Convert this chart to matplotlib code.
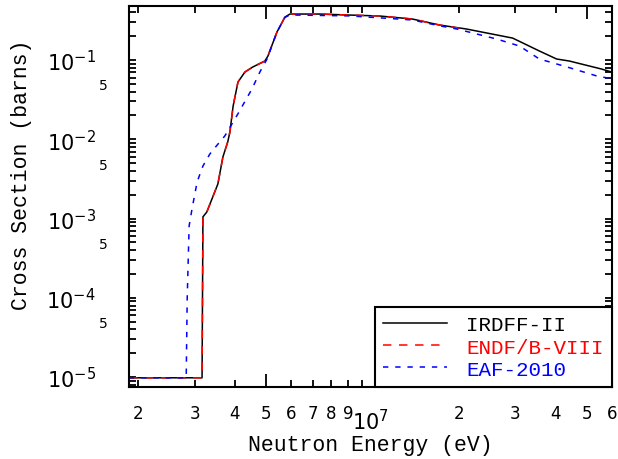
import matplotlib
matplotlib.use("Agg")
import matplotlib.pyplot as plt
from matplotlib.ticker import FixedLocator, FixedFormatter
from matplotlib.transforms import ScaledTranslation

# IRDFF-II (eV, barns)
irdff_e = [1.87e6, 3.16e6, 3.17e6, 3.18e6, 3.27e6, 3.54e6, 3.67e6, 3.80e6, 3.86e6,
           3.95e6, 4.09e6, 4.30e6, 4.55e6, 4.96e6, 5.07e6, 5.41e6, 5.73e6, 5.94e6,
           7.37e6, 9.12e6, 1.13e7, 1.43e7, 1.74e7, 2.11e7, 2.94e7, 3.56e7, 4.03e7,
           4.42e7, 5.56e7, 5.98e7]
irdff_xs = [9.8e-6, 9.8e-6, 1.0e-4, 1.05e-3, 1.21e-3, 2.73e-3, 5.98e-3, 9.25e-3, 1.24e-2,
            2.63e-2, 5.28e-2, 7.06e-2, 8.17e-2, 9.7e-2, 0.112, 0.225, 0.348, 0.380,
            0.380, 0.369, 0.359, 0.329, 0.276, 0.246, 0.189, 0.130, 0.103,
            0.097, 0.077, 0.0706]

# ENDF/B-VIII (ends at 20 MeV)
endf_e = [1.87e6, 3.16e6, 3.17e6, 3.18e6, 3.27e6, 3.54e6, 3.67e6, 3.80e6, 3.86e6,
          3.95e6, 4.09e6, 4.30e6, 4.55e6, 4.96e6, 5.07e6, 5.41e6, 5.73e6, 5.94e6,
          7.37e6, 9.12e6, 1.13e7, 1.43e7, 1.74e7, 2.0e7]
endf_xs = [9.8e-6, 9.8e-6, 1.0e-4, 1.05e-3, 1.21e-3, 2.73e-3, 5.98e-3, 9.25e-3, 1.24e-2,
           2.63e-2, 5.28e-2, 7.06e-2, 8.17e-2, 9.7e-2, 0.112, 0.225, 0.348, 0.380,
           0.380, 0.369, 0.359, 0.329, 0.276, 0.252]

# EAF-2010
eaf_e = [1.87e6, 2.82e6, 2.84e6, 2.88e6, 2.94e6, 3.05e6, 3.18e6, 3.34e6, 3.59e6,
         3.72e6, 4.09e6, 4.52e6, 4.79e6, 5.04e6, 5.41e6, 5.73e6, 5.94e6, 9.12e6,
         1.43e7, 1.74e7, 1.97e7, 2.62e7, 3.09e7, 3.56e7, 4.33e7, 5.37e7, 5.98e7]
eaf_xs = [9.8e-6, 9.8e-6, 9.7e-5, 8.1e-4, 1.32e-3, 2.9e-3, 4.6e-3, 6.5e-3, 9.3e-3,
          1.1e-2, 2.1e-2, 4.3e-2, 7.1e-2, 0.103, 0.225, 0.345, 0.37, 0.36,
          0.32, 0.27, 0.246, 0.184, 0.150, 0.103, 0.082, 0.063, 0.058]

x_ticks = [2e6, 3e6, 4e6, 5e6, 6e6, 7e6, 8e6, 9e6, 1e7, 2e7, 3e7, 4e7, 5e7, 6e7]
x_labels = ["2", "3", "4", "5", "6", "7", "8", "9", r"$10^7$", "2", "3", "4", "5", "6"]

y_ticks, y_labels = [], []
for p in range(-6, 0):
    for m in range(1, 10):
        v = m * 10.0 ** p
        if 7.5e-6 <= v <= 0.48:
            y_ticks.append(v)
            if m == 1:
                y_labels.append(r"$10^{%d}$" % p)
            elif m == 5:
                y_labels.append("5")
            else:
                y_labels.append("")

mono = "Liberation Mono"
plt.rcParams["mathtext.fontset"] = "dejavusans"

fig = plt.figure(figsize=(6.18, 4.60), dpi=100)
ax = fig.add_axes([129 / 618, 1 - 388 / 460, 483 / 618, 381 / 460])

ax.plot(irdff_e, irdff_xs, color="black", lw=1.1, label="IRDFF-II")
ax.plot(endf_e, endf_xs, color="red", lw=1.1, dashes=(5.5, 5.0), label="ENDF/B-VIII")
ax.plot(eaf_e, eaf_xs, color="blue", lw=1.1, dashes=(3.5, 4.5), label="EAF-2010")

ax.set_xscale("log")
ax.set_yscale("log")
ax.set_xlim(1.87e6, 6.0e7)
ax.set_ylim(7.5e-6, 0.48)

ax.xaxis.set_major_locator(FixedLocator(x_ticks))
ax.xaxis.set_major_formatter(FixedFormatter(x_labels))
ax.xaxis.set_minor_locator(FixedLocator([]))
ax.yaxis.set_major_locator(FixedLocator(y_ticks))
ax.yaxis.set_major_formatter(FixedFormatter(y_labels))
ax.yaxis.set_minor_locator(FixedLocator([]))

ax.tick_params(which="both", direction="in", top=True, right=True, width=1.3,
               length=5, labelsize=12, pad=6)
ax.tick_params(axis="x", pad=12)
for s in ax.spines.values():
    s.set_linewidth(1.5)


def mantissa(v):
    return round(v / 10 ** int(f"{v:e}".split("e")[1]))


# tick lengths: decades long, fives medium, others short
for t, v in zip(ax.xaxis.get_major_ticks(len(x_ticks)), x_ticks):
    m = mantissa(v)
    size = 14 if m == 1 else (9.5 if m == 5 else 5)
    t.tick1line.set_markersize(size)
    t.tick2line.set_markersize(size)
    if m == 1:
        t.label1.set_fontsize(15)
        t.set_pad(15)
        t.label1.set_transform(t.label1.get_transform()
                               + ScaledTranslation(6 / 72, 0, fig.dpi_scale_trans))
for t, v in zip(ax.yaxis.get_major_ticks(len(y_ticks)), y_ticks):
    m = mantissa(v)
    size = 14 if m == 1 else (9.5 if m == 5 else 5)
    t.tick1line.set_markersize(size)
    t.tick2line.set_markersize(size)
    if m == 1:
        t.label1.set_fontsize(15)
        t.set_pad(24)
    elif m == 5:
        t.label1.set_fontsize(10)
        t.set_pad(15)

ax.set_xlabel("Neutron Energy (eV)", family=mono, fontsize=15.5, labelpad=1)
ax.set_ylabel("Cross Section (barns)", family=mono, fontsize=15.5)
ax.yaxis.set_label_coords(-0.20, 0.56)

leg = ax.legend(loc="lower right", bbox_to_anchor=(1.0, 0.0), borderaxespad=0,
                prop={"family": mono, "size": 15}, labelcolor="linecolor",
                handlelength=3.1, handletextpad=0.9, labelspacing=0.15,
                fancybox=False, framealpha=1, edgecolor="black", borderpad=0.4)
leg.get_frame().set_linewidth(1.5)

fig.savefig("out.png", dpi=100)
